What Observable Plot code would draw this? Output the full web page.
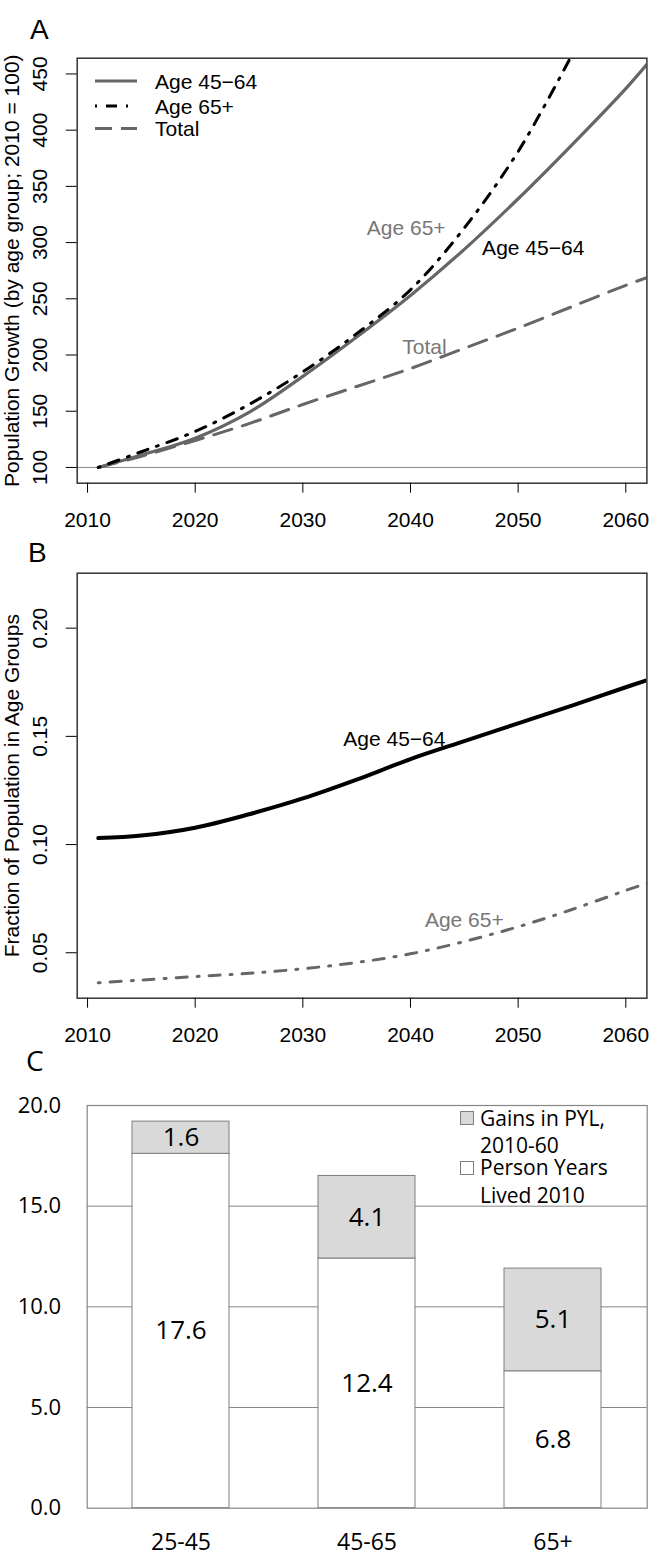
<!DOCTYPE html>
<html><head><meta charset="utf-8">
<script src="https://cdn.jsdelivr.net/npm/d3@7"></script>
<script src="https://cdn.jsdelivr.net/npm/@observablehq/plot@0.6"></script>
<style>
body{margin:0;background:#fff;}
#wrap{position:relative;width:653px;height:1559px;overflow:hidden;background:#fff;}
.panel{position:absolute;left:0;}
#overlay{position:absolute;left:0;top:0;pointer-events:none;}
</style></head><body><div id="wrap"></div>
<script>
// ---------- Panel A data: population growth index (2010 = 100) ----------
const yearsA = [2011, 2015, 2020, 2025, 2030, 2035, 2040, 2045, 2050, 2055, 2060, 2062];
const growth4564 = [100, 111, 126, 149, 181, 216, 253, 294, 339, 387, 437, 459];
const years65A = [2011, 2015, 2020, 2025, 2030, 2035, 2040, 2045, 2050, 2055];
const growth65 = [100, 114, 132, 156, 185, 219, 258, 313, 381, 467];
const growthTotal = [100, 110, 124, 139, 156, 172, 188, 206, 224, 243, 262, 269];
const yTicksA = [100, 150, 200, 250, 300, 350, 400, 450];
const labelTextA = ["Age 65+", "Age 45\u221264", "Total"];
const labelYearA = [2039.6, 2051.4, 2041.3];
const labelValueA = [313, 295, 207];
const labelColorA = ["#777", "#000", "#777"];

// ---------- Panel B data: fraction of population ----------
const yearsB = [2011, 2015, 2020, 2025, 2030, 2035, 2040, 2045, 2050, 2055, 2060, 2062];
const frac4564 = [0.1030, 0.1042, 0.1078, 0.1140, 0.1213, 0.1300, 0.1395, 0.1478, 0.1560, 0.1642, 0.1727, 0.1760];
const frac65 = [0.0361, 0.0374, 0.0390, 0.0405, 0.0426, 0.0455, 0.0495, 0.0552, 0.0620, 0.0700, 0.0788, 0.0822];
const yTicksB = [0.05, 0.10, 0.15, 0.20];
const labelTextB = ["Age 45\u221264", "Age 65+"];
const labelYearB = [2038.5, 2045.0];
const labelValueB = [0.1486, 0.0649];
const labelColorB = ["#000", "#777"];

const xTicks = [2010, 2020, 2030, 2040, 2050, 2060];

// ---------- Panel C data: person years lived ----------
const ageGroups = ["25-45", "45-65", "65+"];
const pyl2010 = [17.6, 12.4, 6.8];
const gainsPYL = [1.6, 4.1, 5.1];
const yTicksC = [0, 5, 10, 15, 20];
const gridC = [5, 10, 15];

const RF = "'Liberation Sans', Arial, sans-serif";
const EF = "'Open Sans', 'Noto Sans', sans-serif";

const wrap = document.getElementById("wrap");
function place(svg, top) {
  svg.classList.add("panel");
  svg.style.top = top + "px";
  wrap.appendChild(svg);
}

// ---------- Panel A ----------
const dA4564 = yearsA.map((y, i) => ({year: y, value: growth4564[i]}));
const dA65 = years65A.map((y, i) => ({year: y, value: growth65[i]}));
const dATot = yearsA.map((y, i) => ({year: y, value: growthTotal[i]}));
const labA = labelTextA.map((t, i) => ({text: t, year: labelYearA[i], value: labelValueA[i], color: labelColorA[i]}));

const plotA = Plot.plot({
  width: 653, height: 530,
  marginLeft: 76.7, marginRight: 6.6, marginTop: 57.7, marginBottom: 47.3,
  x: {domain: [2009.04, 2061.96]},
  y: {domain: [86, 464]},
  style: {fontFamily: RF, fontSize: "21px", color: "#000", background: "transparent"},
  marks: [
    Plot.ruleY([100], {stroke: "#888", strokeWidth: 1}),
    Plot.line(dATot, {x: "year", y: "value", stroke: "#666", strokeWidth: 3, strokeDasharray: "19,11", curve: "catmull-rom", clip: true}),
    Plot.line(dA4564, {x: "year", y: "value", stroke: "#666", strokeWidth: 3.2, curve: "catmull-rom", clip: true}),
    Plot.line(dA65, {x: "year", y: "value", stroke: "#000", strokeWidth: 3, strokeDasharray: "2,9,11,9", curve: "catmull-rom", clip: true}),
    Plot.text(labA, {x: "year", y: "value", text: "text", fill: "color", fontSize: 21}),
    Plot.frame({stroke: "#333", strokeWidth: 1.5}),
    Plot.axisX({ticks: xTicks, tickSize: 10, tickPadding: 19, tickFormat: d3.format("d"), label: null}),
    Plot.axisY({ticks: yTicksA, tickSize: 11, tickFormat: () => "", label: null}),
    Plot.text(yTicksA, {y: d => d, text: d => String(d), frameAnchor: "left", dx: -37, rotate: -90, textAnchor: "middle", lineAnchor: "middle", fontSize: 21}),
    Plot.text(["Population Growth (by age group; 2010 = 100)"], {frameAnchor: "left", dx: -65, rotate: -90, textAnchor: "middle", lineAnchor: "middle", fontSize: 21})
  ]
});
place(plotA, 0);

// ---------- Panel B ----------
const dB4564 = yearsB.map((y, i) => ({year: y, value: frac4564[i]}));
const dB65 = yearsB.map((y, i) => ({year: y, value: frac65[i]}));
const labB = labelTextB.map((t, i) => ({text: t, year: labelYearB[i], value: labelValueB[i], color: labelColorB[i]}));

const plotB = Plot.plot({
  width: 653, height: 530,
  marginLeft: 76.7, marginRight: 6.6, marginTop: 42.7, marginBottom: 62.3,
  x: {domain: [2009.04, 2061.96]},
  y: {domain: [0.029, 0.2254]},
  style: {fontFamily: RF, fontSize: "21px", color: "#000", background: "transparent"},
  marks: [
    Plot.line(dB65, {x: "year", y: "value", stroke: "#666", strokeWidth: 3, strokeDasharray: "2,10,11,10", curve: "catmull-rom", clip: true}),
    Plot.line(dB4564, {x: "year", y: "value", stroke: "#000", strokeWidth: 4, curve: "catmull-rom", clip: true}),
    Plot.text(labB, {x: "year", y: "value", text: "text", fill: "color", fontSize: 21}),
    Plot.frame({stroke: "#333", strokeWidth: 1.5}),
    Plot.axisX({ticks: xTicks, tickSize: 10, tickPadding: 19, tickFormat: d3.format("d"), label: null}),
    Plot.axisY({ticks: yTicksB, tickSize: 11, tickFormat: () => "", label: null}),
    Plot.text(yTicksB, {y: d => d, text: d => d3.format(".2f")(d), frameAnchor: "left", dx: -37, rotate: -90, textAnchor: "middle", lineAnchor: "middle", fontSize: 21}),
    Plot.text(["Fraction of Population in Age Groups"], {frameAnchor: "left", dx: -65, rotate: -90, textAnchor: "middle", lineAnchor: "middle", fontSize: 21})
  ]
});
place(plotB, 530);

// ---------- Panel C ----------
const baseBars = ageGroups.map((g, i) => ({group: g, y1: 0, y2: pyl2010[i], label: pyl2010[i].toFixed(1), mid: pyl2010[i] / 2}));
const gainBars = ageGroups.map((g, i) => ({group: g, y1: pyl2010[i], y2: pyl2010[i] + gainsPYL[i], label: gainsPYL[i].toFixed(1), mid: pyl2010[i] + gainsPYL[i] / 2}));

const plotC = Plot.plot({
  width: 653, height: 499,
  marginLeft: 86.7, marginRight: 6.3, marginTop: 45, marginBottom: 51.3,
  x: {type: "band", domain: ageGroups, paddingInner: 0.477, paddingOuter: 0.2385},
  y: {domain: [0, 20]},
  style: {fontFamily: EF, fontSize: "22px", color: "#000", background: "transparent"},
  marks: [
    Plot.ruleY(gridC, {stroke: "#868686", strokeWidth: 1}),
    Plot.barY(baseBars, {x: "group", y1: "y1", y2: "y2", fill: "#fff", stroke: "#7f7f7f", strokeWidth: 1}),
    Plot.barY(gainBars, {x: "group", y1: "y1", y2: "y2", fill: "#d9d9d9", stroke: "#7f7f7f", strokeWidth: 1}),
    Plot.text(baseBars, {x: "group", y: "mid", text: "label", fontSize: 26, fill: "#000"}),
    Plot.text(gainBars, {x: "group", y: "mid", text: "label", fontSize: 26, fill: "#000"}),
    Plot.frame({stroke: "#868686", strokeWidth: 1.2}),
    Plot.axisX({tickSize: 0, tickPadding: 25, label: null, fontSize: 23}),
    Plot.axisY({ticks: yTicksC, tickSize: 0, tickPadding: 26, tickFormat: d3.format(".1f"), label: null, fontSize: 22})
  ]
});
place(plotC, 1060);

// ---------- Overlay: panel letters and legends ----------
const NS = "http://www.w3.org/2000/svg";
const ov = document.createElementNS(NS, "svg");
ov.setAttribute("id", "overlay");
ov.setAttribute("width", 653);
ov.setAttribute("height", 1559);
function el(tag, attrs, text) {
  const e = document.createElementNS(NS, tag);
  for (const k in attrs) e.setAttribute(k, attrs[k]);
  if (text != null) e.textContent = text;
  ov.appendChild(e);
  return e;
}
el("text", {x: 30, y: 39, "font-family": RF, "font-size": 28}, "A");
el("text", {x: 28, y: 562, "font-family": RF, "font-size": 28}, "B");
el("text", {x: 26, y: 1071, "font-family": EF, "font-size": 28}, "C");

// legend panel A
const legA = [
  {y: 81, stroke: "#666", dash: null, w: 3.2, text: "Age 45\u221264"},
  {y: 106, stroke: "#000", dash: "2,9,11,9", w: 3, text: "Age 65+"},
  {y: 128.5, stroke: "#666", dash: "17,9", w: 3, text: "Total"}
];
legA.forEach(d => {
  const a = {x1: 95, x2: 137, y1: d.y, y2: d.y, stroke: d.stroke, "stroke-width": d.w};
  if (d.dash) a["stroke-dasharray"] = d.dash;
  el("line", a);
  el("text", {x: 155, y: d.y + 7.5, "font-family": RF, "font-size": 21, fill: "#000"}, d.text);
});

// legend panel C
el("rect", {x: 460.5, y: 1111.5, width: 13, height: 13, fill: "#d9d9d9", stroke: "#7f7f7f", "stroke-width": 1});
el("rect", {x: 460.5, y: 1161.5, width: 13, height: 13, fill: "#fff", stroke: "#7f7f7f", "stroke-width": 1});
[["Gains in PYL,", 1125.5], ["2010-60", 1152.5], ["Person Years", 1175], ["Lived 2010", 1202.5]].forEach(([t, y]) => {
  el("text", {x: 480, y: y, "font-family": EF, "font-size": 21, fill: "#000"}, t);
});
wrap.appendChild(ov);
</script>
</body></html>
